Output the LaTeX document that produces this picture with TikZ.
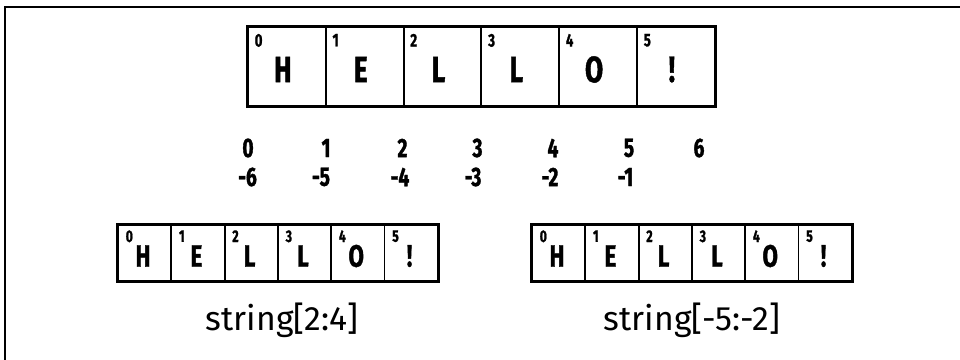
\documentclass[tikz,border=0pt]{standalone}
\usepackage{fontspec}
\setmainfont{Fira Sans}
\newfontfamily\condfont[FakeStretch=0.72, BoldFeatures={FakeBold=1.2}]{Fira Sans}
\usepackage{tikz}

\begin{document}
\begin{tikzpicture}[x=0.025cm, y=-0.025cm,
    bigcell/.style={draw, line width=1.3pt, minimum width=1.945cm, minimum height=1.975cm, inner sep=0pt},
    smallcell/.style={draw, line width=1.3pt, minimum width=1.3325cm, minimum height=1.4cm, inner sep=0pt},
    bigletter/.style={font=\condfont\bfseries\fontsize{26}{28}\selectfont, inner sep=0pt},
    smallletter/.style={font=\condfont\bfseries\fontsize{22}{24}\selectfont, inner sep=0pt},
    bigindex/.style={font=\condfont\bfseries\fontsize{13}{14}\selectfont, inner sep=0pt, anchor=north west},
    smallindex/.style={font=\condfont\bfseries\fontsize{12}{13}\selectfont, inner sep=0pt, anchor=north west},
    offsetnum/.style={font=\condfont\bfseries\fontsize{19}{21}\selectfont, inner sep=0pt},
    slice/.style={font=\fontsize{24}{26}\selectfont, inner sep=0pt},
    boxedge/.style={line width=2pt}
]
\useasboundingbox (0,0) rectangle (960,360);
% Frame on the top and left side only
\draw[line width=1.2pt] (5,360) -- (5,7) -- (960,7);
% Whole string, large cells
\foreach \i/\ch in {0/H,1/E,2/L,3/L,4/O,5/!} {
    \node[bigcell] (t\i) at (286.9+77.8*\i,66.5) {};
    \node[bigletter] (tl\i) at ([xshift=-0.1cm,yshift=-0.075cm]t\i.center) {\ch};
    \node[bigindex] (ti\i) at ([xshift=0.185cm,yshift=-0.19cm]t\i.north west) {\i};
}
\draw[boxedge] (t0.north west) rectangle (t5.south east);
% Positive and negative offsets
\foreach \x/\n in {248/0,326/1,402.5/2,477.5/3,553/4,629/5,699/6} {
    \node[offsetnum] (p\n) at (\x,148) {\n};
}
\foreach \x/\n in {247.5/6,321/5,400/4,473/3,550/2,625.5/1} {
    \node[offsetnum] (m\n) at (\x,177) {-\n};
}
% Two slices of the same string
\foreach \i/\ch in {0/H,1/E,2/L,3/L,4/O,5/!} {
    \node[smallcell] (a\i) at (144.65+53.3*\i,253) {};
    \node[smallletter] (al\i) at ([xshift=-0.04cm,yshift=-0.075cm]a\i.center) {\ch};
    \node[smallindex] (ai\i) at ([xshift=0.21cm,yshift=-0.15cm]a\i.north west) {\i};
    \node[smallcell] (b\i) at (558.65+53.3*\i,253) {};
    \node[smallletter] (bl\i) at ([xshift=-0.04cm,yshift=-0.075cm]b\i.center) {\ch};
    \node[smallindex] (bi\i) at ([xshift=0.21cm,yshift=-0.15cm]b\i.north west) {\i};
}
\draw[boxedge] (a0.north west) rectangle (a5.south east);
\draw[boxedge] (b0.north west) rectangle (b5.south east);
\node[slice] (lslice) at (282,320) {string[2:4]};
\node[slice] (rslice) at (692,320) {string[-5:-2]};
\end{tikzpicture}
\end{document}
